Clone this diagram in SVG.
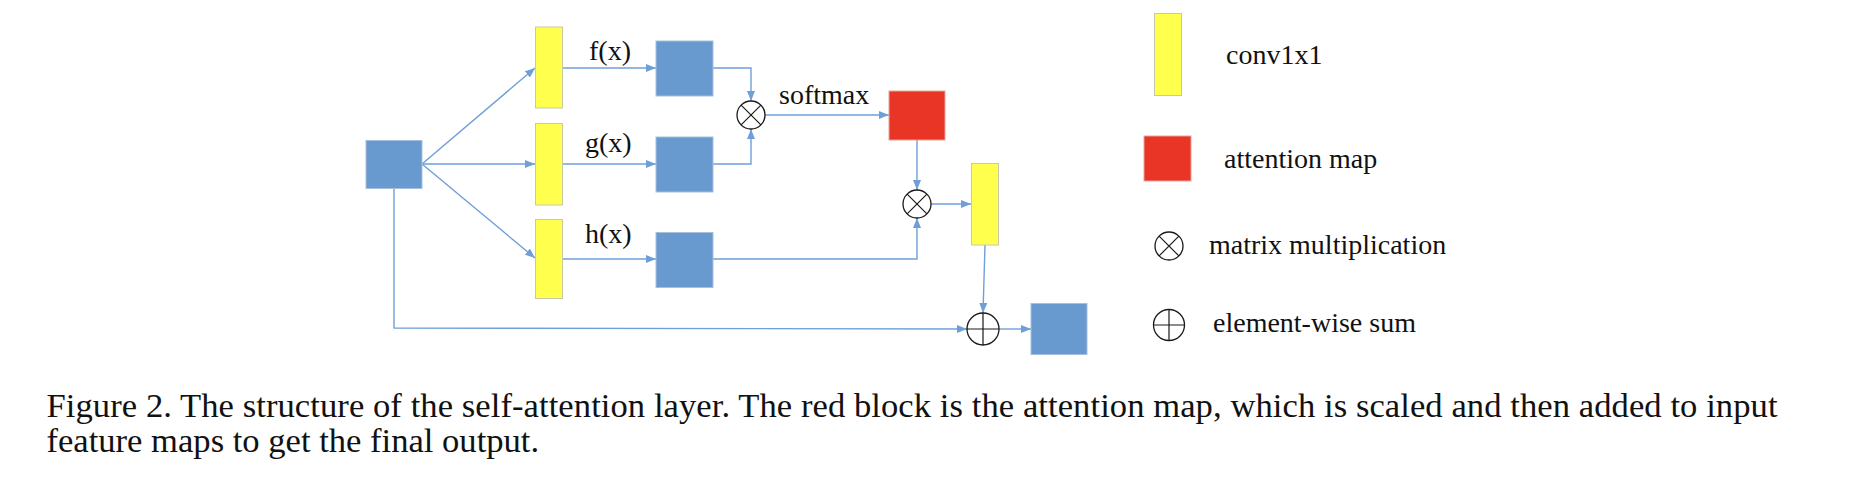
<svg xmlns="http://www.w3.org/2000/svg" width="1852" height="486" viewBox="0 0 1852 486">
<style>
  .blue{fill:#6899cf;stroke:#a6bfdc;stroke-width:1}
  .yellow{fill:#ffff4d;stroke:#c9c9a8;stroke-width:1}
  .red{fill:#e83526;stroke:#e8a39c;stroke-width:1}
  .op{fill:#ffffff;stroke:#1a1a1a;stroke-width:1.3}
  .opl{stroke:#1a1a1a;stroke-width:1.2}
  .conn{fill:none;stroke:#6f9fd8;stroke-width:1.4;marker-end:url(#arr)}
  .lbl{font-family:"Liberation Serif","Times New Roman",serif;font-size:28px;fill:#111}
  .cap{font-family:"Liberation Serif","Times New Roman",serif;font-size:34.6px;fill:#111}
</style>
<defs>
  <marker id="arr" viewBox="0 0 10 8" markerWidth="10" markerHeight="8" refX="10" refY="4" orient="auto" markerUnits="userSpaceOnUse">
    <path d="M0,0 L10,4 L0,8 z" fill="#6f9fd8"/>
  </marker>
</defs>

<g id="connectors">
  <path class="conn" d="M422,164 L535,68"/>
  <path class="conn" d="M422,164 L535,164"/>
  <path class="conn" d="M422,164 L535,258"/>
  <path class="conn" d="M562,68 L656,68"/>
  <path class="conn" d="M562,164 L656,164"/>
  <path class="conn" d="M562,259 L656,259"/>
  <path class="conn" d="M713,68 L751,68 L751,101"/>
  <path class="conn" d="M713,164 L751,164 L751,129"/>
  <path class="conn" d="M765,115 L889,115"/>
  <path class="conn" d="M917,140 L917,190"/>
  <path class="conn" d="M713,259 L917,259 L917,218"/>
  <path class="conn" d="M931,204 L971,204"/>
  <path class="conn" d="M985,245 L983,313"/>
  <path class="conn" d="M394,188 L394,328 L967,329"/>
  <path class="conn" d="M999,329 L1031,329"/>
</g>

<g id="input"><rect class="blue" x="366" y="140.5" width="56" height="48"/></g>

<g id="conv_f"><rect class="yellow" x="535.5" y="27" width="27" height="81"/></g>
<g id="conv_g"><rect class="yellow" x="535.5" y="123.5" width="27" height="81.5"/></g>
<g id="conv_h"><rect class="yellow" x="535.5" y="219.5" width="27" height="79"/></g>

<g id="label_f"><text class="lbl" x="589" y="60">f(x)</text></g>
<g id="label_g"><text class="lbl" x="585" y="152">g(x)</text></g>
<g id="label_h"><text class="lbl" x="585" y="243">h(x)</text></g>

<g id="fx"><rect class="blue" x="656" y="41" width="57" height="55"/></g>
<g id="gx"><rect class="blue" x="656" y="137" width="57" height="55"/></g>
<g id="hx"><rect class="blue" x="656" y="232.5" width="57" height="55"/></g>

<g id="mult1">
  <circle class="op" cx="751" cy="115" r="14"/>
  <path class="opl" d="M741.1,105.1 L760.9,124.9 M760.9,105.1 L741.1,124.9"/>
</g>
<g id="label_softmax"><text class="lbl" x="779" y="104">softmax</text></g>

<g id="attention"><rect class="red" x="889" y="91" width="56" height="49"/></g>

<g id="mult2">
  <circle class="op" cx="917" cy="204" r="14"/>
  <path class="opl" d="M907.1,194.1 L926.9,213.9 M926.9,194.1 L907.1,213.9"/>
</g>

<g id="conv_out"><rect class="yellow" x="971.5" y="163.5" width="27" height="81.5"/></g>

<g id="sum">
  <circle class="op" cx="983" cy="329" r="16"/>
  <path class="opl" d="M967,329 L999,329 M983,313 L983,345"/>
</g>

<g id="output"><rect class="blue" x="1031" y="303.5" width="56" height="51"/></g>

<g id="legend">
  <rect class="yellow" x="1154.5" y="13.5" width="27" height="82"/>
  <text class="lbl" x="1226" y="64">conv1x1</text>
  <rect class="red" x="1144" y="136" width="47" height="45"/>
  <text class="lbl" x="1224" y="168">attention map</text>
  <circle class="op" cx="1169" cy="246" r="14"/>
  <path class="opl" d="M1159.1,236.1 L1178.9,255.9 M1178.9,236.1 L1159.1,255.9"/>
  <text class="lbl" x="1209" y="254">matrix multiplication</text>
  <circle class="op" cx="1169" cy="325" r="15.5"/>
  <path class="opl" d="M1153.5,325 L1184.5,325 M1169,309.5 L1169,340.5"/>
  <text class="lbl" x="1213" y="332">element-wise sum</text>
</g>

<g id="caption">
  <text class="cap" x="46.5" y="417" textLength="1731" lengthAdjust="spacing">Figure 2. The structure of the self-attention layer. The red block is the attention map, which is scaled and then added to input</text>
  <text class="cap" x="46.5" y="451.5">feature maps to get the final output.</text>
</g>
</svg>
